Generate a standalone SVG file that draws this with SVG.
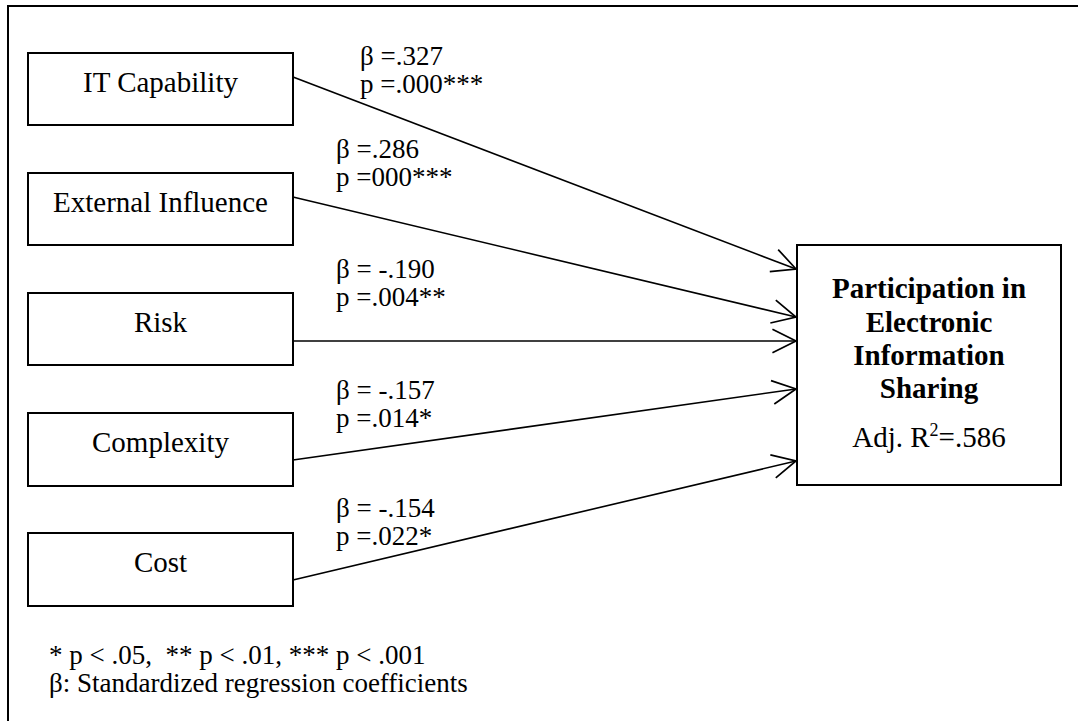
<svg xmlns="http://www.w3.org/2000/svg" width="1078" height="721" viewBox="0 0 1078 721">
<style>
.box{fill:#fff;stroke:#000;stroke-width:2}
.t{font-family:"Liberation Serif","Times New Roman",serif;font-size:29px;fill:#000}
.b{font-weight:bold}
.lbl{font-family:"Liberation Serif","Times New Roman",serif;font-size:27px;fill:#000}
.edge{stroke:#000;stroke-width:1.6;fill:none;marker-end:url(#arr)}
</style>
<defs>
<marker id="arr" markerUnits="userSpaceOnUse" markerWidth="30" markerHeight="30" viewBox="-24 -14 26 28" refX="0" refY="0" orient="auto">
<path d="M-22,-11 L0,0 L-22,11" fill="none" stroke="#000" stroke-width="1.6"/>
</marker>
</defs>
<rect x="0" y="0" width="1078" height="721" fill="#fff"/>
<path d="M8,721 V6 H1078" fill="none" stroke="#000" stroke-width="2"/>
<g id="connectors">
<line class="edge" x1="293" y1="77" x2="796" y2="269"/>
<line class="edge" x1="293" y1="197" x2="796" y2="317"/>
<line class="edge" x1="293" y1="341" x2="796" y2="341"/>
<line class="edge" x1="293" y1="460" x2="796" y2="389"/>
<line class="edge" x1="293" y1="580" x2="796" y2="461"/>
</g>
<g id="labels">
<text class="lbl" x="360" y="65">β =.327</text>
<text class="lbl" x="360" y="93">p =.000***</text>
<text class="lbl" x="336" y="158">β =.286</text>
<text class="lbl" x="336" y="186">p =000***</text>
<text class="lbl" x="336" y="278">β = -.190</text>
<text class="lbl" x="336" y="306">p =.004**</text>
<text class="lbl" x="336" y="399">β = -.157</text>
<text class="lbl" x="336" y="427">p =.014*</text>
<text class="lbl" x="336" y="517">β = -.154</text>
<text class="lbl" x="336" y="545">p =.022*</text>
</g>
<g id="it-capability">
<rect class="box" x="28" y="53" width="265" height="72"/>
<text class="t" x="160.5" y="91.5" text-anchor="middle">IT Capability</text>
</g>
<g id="external-influence">
<rect class="box" x="28" y="173" width="265" height="72"/>
<text class="t" x="160.5" y="211.5" text-anchor="middle">External Influence</text>
</g>
<g id="risk">
<rect class="box" x="28" y="293" width="265" height="72"/>
<text class="t" x="160.5" y="331.5" text-anchor="middle">Risk</text>
</g>
<g id="complexity">
<rect class="box" x="28" y="413" width="265" height="73"/>
<text class="t" x="160.5" y="451.5" text-anchor="middle">Complexity</text>
</g>
<g id="cost">
<rect class="box" x="28" y="533" width="265" height="73"/>
<text class="t" x="160.5" y="571.5" text-anchor="middle">Cost</text>
</g>
<g id="participation">
<rect class="box" x="797" y="245" width="264" height="240"/>
<text class="t b" x="929" y="298" text-anchor="middle">Participation in</text>
<text class="t b" x="929" y="332" text-anchor="middle">Electronic</text>
<text class="t b" x="929" y="365" text-anchor="middle">Information</text>
<text class="t b" x="929" y="398" text-anchor="middle">Sharing</text>
<text class="t" x="929" y="447" text-anchor="middle">Adj. R<tspan font-size="18" dy="-11">2</tspan><tspan dy="11">=.586</tspan></text>
</g>
<g id="footnote">
<text class="lbl" x="49" y="664" xml:space="preserve">* p &lt; .05,  ** p &lt; .01, *** p &lt; .001</text>
<text class="lbl" x="49" y="692">β: Standardized regression coefficients</text>
</g>
</svg>
